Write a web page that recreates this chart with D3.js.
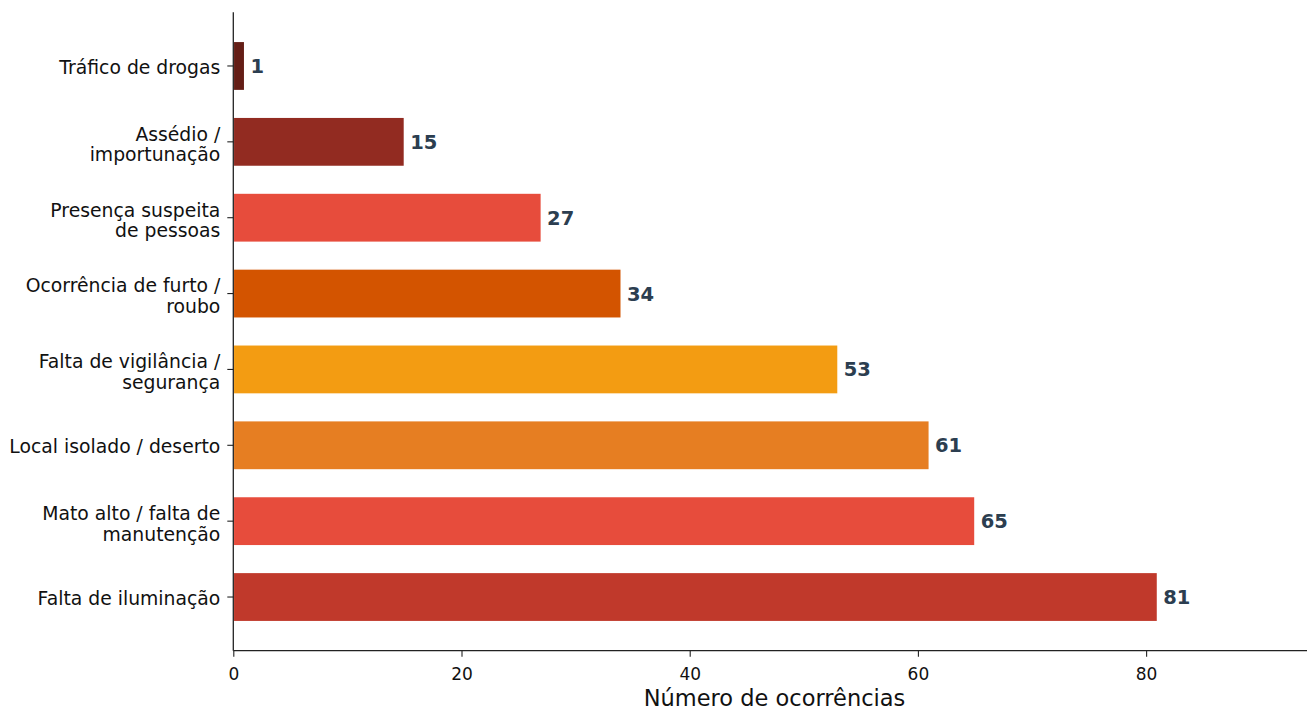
<!DOCTYPE html>
<html>
<head>
<meta charset="utf-8">
<script src="https://cdn.jsdelivr.net/npm/d3@7"></script>
<style>
  html, body { margin: 0; padding: 0; background: #fff; }
  svg { display: block; }
  text { font-family: "DejaVu Sans", sans-serif; }
</style>
</head>
<body>
<svg id="chart" width="1307" height="710"></svg>
<script>
// Categories listed from top to bottom of the chart
const categories = [
  "Tráfico de drogas",
  "Assédio /\nimportunação",
  "Presença suspeita\nde pessoas",
  "Ocorrência de furto /\nroubo",
  "Falta de vigilância /\nsegurança",
  "Local isolado / deserto",
  "Mato alto / falta de\nmanutenção",
  "Falta de iluminação"
];
const counts = [1, 15, 27, 34, 53, 61, 65, 81];
const barColors = ["#641e16", "#922b21", "#e74c3c", "#d35400", "#f39c12", "#e67e22", "#e74c3c", "#c0392b"];
const xTicks = [0, 20, 40, 60, 80];
const xLabel = "Número de ocorrências";

const svg = d3.select("#chart");
const plotLeft = 233.3, plotRight = 1307, plotTop = 12.3, plotBottom = 650.7;

const x = d3.scaleLinear().domain([0, 94.1]).range([plotLeft, plotRight]);
const y = d3.scaleBand()
  .domain(categories)
  .range([plotTop, plotBottom])
  .paddingInner(0.35)
  .paddingOuter(0.3825);

// bars
svg.append("g")
  .selectAll("rect")
  .data(categories)
  .join("rect")
  .attr("x", x(0))
  .attr("y", d => y(d))
  .attr("width", (d, i) => x(counts[i]) - x(0))
  .attr("height", y.bandwidth())
  .attr("fill", (d, i) => barColors[i])
  .attr("stroke", "#fff")
  .attr("stroke-width", 1.5);

// value labels
svg.append("g")
  .selectAll("text")
  .data(categories)
  .join("text")
  .attr("x", (d, i) => x(counts[i] + 0.5))
  .attr("y", d => y(d) + y.bandwidth() / 2)
  .attr("dy", "0.36em")
  .attr("fill", "#2c3e50")
  .attr("font-weight", "bold")
  .attr("font-size", "19.5px")
  .text((d, i) => counts[i]);

// x axis
const xAxis = svg.append("g")
  .attr("transform", `translate(0,${plotBottom})`)
  .call(d3.axisBottom(x).tickValues(xTicks).tickSize(6).tickPadding(11).tickFormat(d3.format("d")));
xAxis.select(".domain").attr("stroke", "#222").attr("stroke-width", 1.3)
  .attr("d", `M${plotLeft},0H${plotRight}`);
xAxis.selectAll(".tick line").attr("stroke", "#222").attr("stroke-width", 1.1);
xAxis.selectAll(".tick text").attr("font-size", "17px").attr("fill", "#111")
  .attr("font-family", "DejaVu Sans, sans-serif");

// y axis
const yAxis = svg.append("g")
  .attr("transform", `translate(${plotLeft},0)`)
  .call(d3.axisLeft(y).tickSize(6).tickPadding(7).tickFormat(""));
yAxis.select(".domain").attr("stroke", "#222").attr("stroke-width", 1.3)
  .attr("d", `M0,${plotTop}V${plotBottom}`);
yAxis.selectAll(".tick line").attr("stroke", "#222").attr("stroke-width", 1.1);

// multi-line category labels, baselines placed relative to the tick
const fs = 18.8, lh = 20.8;
yAxis.selectAll(".tick").each(function(d) {
  const lines = d.split("\n");
  const t = d3.select(this).append("text")
    .attr("text-anchor", "end")
    .attr("fill", "#111")
    .attr("font-size", fs + "px");
  const first = lines.length === 1 ? 7.6 : -1.2;
  lines.forEach((ln, k) => {
    t.append("tspan")
      .attr("x", -13)
      .attr("y", first + k * lh)
      .text(ln);
  });
});

// axis title
svg.append("text")
  .attr("x", 774.5)
  .attr("y", 706)
  .attr("text-anchor", "middle")
  .attr("font-size", "22.5px")
  .attr("fill", "#111")
  .text(xLabel);
</script>
</body>
</html>
